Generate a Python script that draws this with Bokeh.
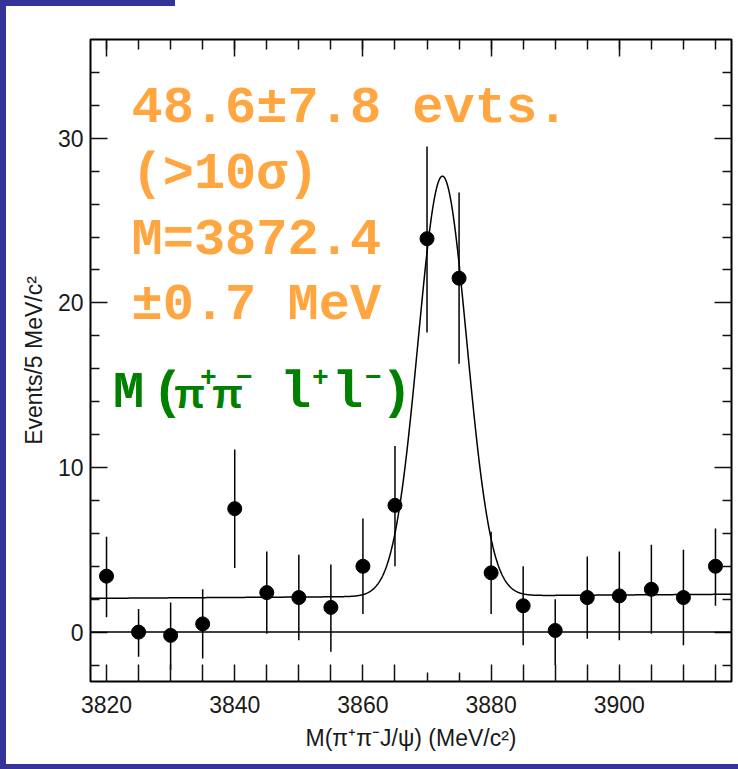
import numpy as np
from bokeh.plotting import figure
from bokeh.models import (FixedTicker, LinearAxis, Span, Label, ColumnDataSource,
                          Div, Range1d, CustomJSTickFormatter)
from bokeh.layouts import row, column
from bokeh.embed import file_html
from bokeh.resources import INLINE

# ---- data: M(pi+ pi- J/psi) spectrum, 5 MeV bins ----
mass = [3820, 3825, 3830, 3835, 3840, 3845, 3850, 3855, 3860, 3865,
        3870, 3875, 3880, 3885, 3890, 3895, 3900, 3905, 3910, 3915]
events = [3.4, 0.0, -0.2, 0.5, 7.5, 2.4, 2.1, 1.5, 4.0, 7.7,
          23.9, 21.5, 3.6, 1.6, 0.1, 2.1, 2.2, 2.6, 2.1, 4.0]
err_high = [5.8, 1.4, 1.8, 2.6, 11.1, 4.9, 4.7, 4.1, 6.9, 11.3,
            29.5, 26.7, 6.1, 4.0, 2.0, 4.6, 4.9, 5.3, 5.0, 6.3]
err_low = [0.9, -1.5, -2.3, -1.6, 3.9, -0.1, -0.5, -1.2, 1.1, 4.0,
           18.2, 16.3, 1.1, -0.8, -2.0, -0.4, -0.5, -0.1, -0.8, 1.6]

# fit: gaussian signal on a linear background
fit_yield = 48.6
fit_mass = 3872.4
fit_sigma = 3.8
bin_width = 5.0
bg_left = 2.05
bg_right = 2.3

x_label_ticks = [3820, 3840, 3860, 3880, 3900]
x_all_ticks = list(range(3820, 3920, 5))
x_short_bottom = [3870, 3875]
y_major = [0, 10, 20, 30]
y_minor = [-2, 2, 4, 6, 8, 12, 14, 16, 18, 22, 24, 26, 28, 32, 34]

X0, X1 = 3817.5, 3917.5
Y0, Y1 = -3.0, 36.0
FRAME_W, FRAME_H = 641, 642
LEFT, TOP = 84, 33

def dx(px):
    """window-x pixel (frame left at 90) -> data x"""
    return X0 + (px - 90) * (X1 - X0) / FRAME_W

def dy(py):
    """window-y pixel (frame top at 39) -> data y"""
    return Y1 - (py - 39) * (Y1 - Y0) / FRAME_H

p = figure(width=732, height=758, x_range=Range1d(X0, X1), y_range=Range1d(Y0, Y1),
           output_backend="svg", toolbar_location=None,
           min_border_left=LEFT, min_border_right=7, min_border_top=TOP,
           min_border_bottom=83, margin=0)
p.background_fill_color = "white"
p.border_fill_color = "white"
p.outline_line_color = "black"
p.outline_line_width = 2
p.xgrid.visible = False
p.ygrid.visible = False

TICK_COLOR = "#111111"
LABEL_FONT = "Liberation Sans"

def style_axis(ax, major_in, minor_in):
    ax.axis_line_color = None
    ax.major_tick_in = major_in
    ax.major_tick_out = 0
    ax.minor_tick_in = minor_in
    ax.minor_tick_out = 0
    ax.major_tick_line_color = TICK_COLOR
    ax.minor_tick_line_color = TICK_COLOR
    ax.major_tick_line_width = 1.5
    ax.minor_tick_line_width = 1.5
    ax.major_label_text_font = LABEL_FONT
    ax.major_label_text_font_size = "23px"
    ax.major_label_text_color = "#1a1a1a"

blank = CustomJSTickFormatter(code="return '';")

# bottom axis
xb = p.xaxis[0]
xb.ticker = FixedTicker(ticks=[t for t in x_all_ticks if t not in x_short_bottom],
                        minor_ticks=x_short_bottom)
xb.formatter = CustomJSTickFormatter(code="return (tick % 20 == 0) ? tick.toFixed(0) : '';")
style_axis(xb, 17, 9)
xb.major_label_standoff = 14
xb.axis_label = "M(π⁺π⁻J/ψ) (MeV/c²)"
xb.axis_label_text_font = LABEL_FONT
xb.axis_label_text_font_size = "23px"
xb.axis_label_text_font_style = "normal"
xb.axis_label_text_color = "#1a1a1a"
xb.axis_label_standoff = 9

# left axis
yl = p.yaxis[0]
yl.ticker = FixedTicker(ticks=y_major, minor_ticks=y_minor)
style_axis(yl, 17, 9)
yl.major_label_standoff = 7
yl.axis_label = "Events/5 MeV/c²"
yl.axis_label_text_font = LABEL_FONT
yl.axis_label_text_font_size = "23px"
yl.axis_label_text_font_style = "normal"
yl.axis_label_text_color = "#1a1a1a"
yl.axis_label_standoff = 8

# top axis
xt = LinearAxis(ticker=FixedTicker(ticks=x_label_ticks, minor_ticks=x_all_ticks),
                formatter=blank)
style_axis(xt, 17, 10)
xt.major_label_standoff = 0
p.add_layout(xt, "above")

# right axis
yr = LinearAxis(ticker=FixedTicker(ticks=y_major, minor_ticks=y_minor), formatter=blank)
style_axis(yr, 17, 9)
yr.major_label_standoff = 0
p.add_layout(yr, "right")

# zero line
p.add_layout(Span(location=0, dimension="width", line_color="black", line_width=1.5))

# fit curve
xf = np.linspace(X0, X1, 1001)
amp = fit_yield * bin_width / (fit_sigma * np.sqrt(2 * np.pi))
bg = bg_left + (bg_right - bg_left) * (xf - X0) / (X1 - X0)
yf = bg + amp * np.exp(-0.5 * ((xf - fit_mass) / fit_sigma) ** 2)
p.line(xf, yf, line_color="black", line_width=1.5)

# data points with error bars
src = ColumnDataSource(dict(x=mass, y=events, lo=err_low, hi=err_high))
p.segment(x0="x", y0="lo", x1="x", y1="hi", source=src, line_color="black", line_width=1.5)
p.scatter(x="x", y="y", source=src, size=14, color="black")

# fit summary
ORANGE = "#ffa640"
MONO = "Liberation Mono"
lines = ["48.6±7.8 evts.", "(>10σ)", "M=3872.4", "±0.7 MeV"]
baselines = [108, 174, 240, 305]
for txt, b in zip(lines, baselines):
    p.add_layout(Label(x=dx(131), y=dy(b), text=txt, text_font=MONO,
                       text_font_size="52px", text_font_style="bold",
                       text_color=ORANGE, text_baseline="alphabetic",
                       text_align="left"))

# decay channel tag, built from main glyphs, greek letters and superscripts
GREEN = "#008000"
pieces = ["M", "(", "π", "+", "π", "−", "l", "+", "l", "−", ")"]
kinds = ["main", "main", "greek", "sup", "greek", "sup", "main", "sup", "main", "sup", "main"]
centers = [128, 167, 189, 208, 227, 244, 295, 320, 347, 373, 396]
font_of = {"main": MONO, "greek": "Liberation Sans", "sup": MONO}
size_of = {"main": "52px", "greek": "40px", "sup": "28px"}
base_of = {"main": 393, "greek": 393, "sup": 376}
tag = ColumnDataSource(dict(
    x=[dx(c) for c in centers],
    y=[dy(base_of[k]) for k in kinds],
    text=pieces,
    font=[font_of[k] for k in kinds],
    size=[size_of[k] for k in kinds],
))
p.text(x="x", y="y", text="text", source=tag, text_font="font",
       text_font_size="size", text_font_style="bold", text_color=GREEN,
       text_align="center", text_baseline="alphabetic")

# slide frame strips
BLUE = "#333399"
left_strip = Div(width=6, height=769, margin=0, styles={"background-color": BLUE})
top_strip = Div(width=169, height=6, margin=0, styles={"background-color": BLUE})
bottom_strip = Div(width=732, height=5, margin=0, styles={"background-color": BLUE})
page = row(left_strip, column(top_strip, p, bottom_strip, spacing=0, margin=0),
           spacing=0, margin=0)

open("out.html", "w").write(file_html(page, INLINE))
